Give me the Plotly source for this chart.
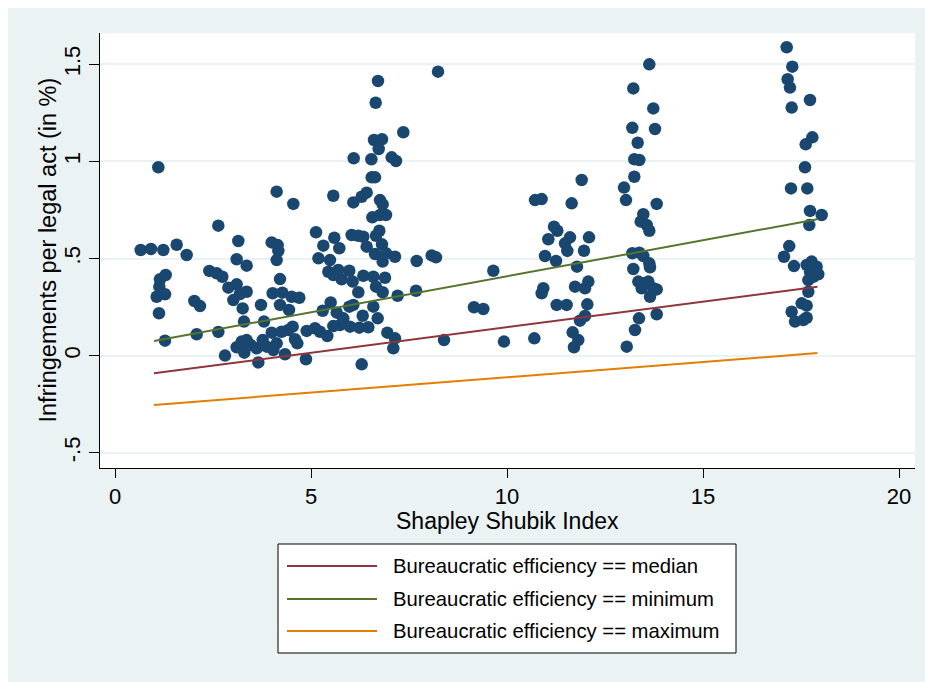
import plotly.graph_objects as go

# ---------------- data ----------------
shapley_index = [
    1.105, 0.655, 0.918, 1.233, 1.573, 1.828, 2.636, 3.146, 4.124, 4.549, 5.128, 3.997, 4.150, 4.167, 4.124,
    3.104, 3.359, 5.190, 1.148, 1.293, 1.131, 1.063, 1.276, 1.122, 1.276, 2.084, 2.636, 2.024, 2.168, 2.406,
    2.594, 2.738, 2.891, 3.104, 3.018, 3.359, 3.189, 3.257, 3.724, 4.209, 4.022, 4.269, 4.507, 4.702, 4.209,
    4.439, 3.291, 3.801, 2.806, 3.299, 3.656, 4.337, 4.872, 3.104, 3.231, 3.359, 3.461, 3.614, 3.767, 3.869,
    3.997, 4.040, 4.124, 4.252, 4.422, 4.533, 4.592, 4.651, 4.890, 5.102,
    8.240, 6.709, 6.650, 7.355, 6.607, 6.811, 6.727, 6.089, 6.540, 7.058, 7.168, 6.548, 6.633, 5.569, 6.080,
    6.293, 6.420, 6.760, 6.828, 6.565, 6.760, 6.913, 6.037, 6.207, 6.335, 6.743, 6.658, 5.595, 5.722, 5.314,
    6.420, 6.811, 6.633, 6.828, 6.913, 7.143, 5.485, 7.696, 8.078, 8.189, 5.442, 5.569, 5.697, 5.782, 5.977,
    6.063, 6.207, 6.335, 6.590, 6.888, 6.658, 6.828, 7.210, 7.679, 5.298, 5.502, 5.655, 5.977, 6.080, 6.590,
    6.319, 6.701, 9.158, 5.230, 5.416, 5.569, 5.740, 5.824, 5.995, 6.232, 6.462, 6.947, 7.143, 7.100, 8.393,
    6.293,
    11.905, 10.714, 10.884, 11.650, 11.199, 11.284, 11.054, 11.607, 11.480, 11.539, 12.092, 10.969, 11.250,
    11.964, 11.786, 9.651, 10.926, 10.884, 11.735, 11.990, 12.075, 9.396, 11.267, 11.522, 12.049, 11.990,
    11.862, 9.923, 10.697, 11.675, 11.819, 11.709,
    13.630, 13.222, 13.732, 13.197, 13.776, 13.334, 13.248, 13.375, 13.248, 12.985, 13.036, 13.819, 13.477,
    13.410, 13.563, 13.630, 13.197, 13.375, 13.477, 13.630, 13.648, 13.222, 13.350, 13.436, 13.605, 13.732,
    13.819, 13.648, 13.477, 13.819, 13.367, 13.265, 13.054,
    17.135, 17.278, 17.160, 17.219, 17.730, 17.262, 17.789, 17.620, 17.602, 17.245, 17.661, 17.730, 18.028,
    17.712, 17.200, 17.066, 17.321, 17.645, 17.772, 17.899, 17.941, 17.730, 17.687, 17.814, 17.687, 17.517,
    17.645, 17.262, 17.347, 17.559, 17.645,
]
infringements = [
    0.970, 0.544, 0.549, 0.544, 0.571, 0.518, 0.669, 0.590, 0.844, 0.781, 0.635, 0.583, 0.569, 0.539, 0.492,
    0.496, 0.463, 0.501, 0.393, 0.415, 0.355, 0.303, 0.316, 0.218, 0.077, 0.110, 0.122, 0.281, 0.255, 0.436,
    0.424, 0.406, 0.350, 0.367, 0.286, 0.329, 0.317, 0.243, 0.261, 0.394, 0.321, 0.324, 0.303, 0.298, 0.261,
    0.235, 0.175, 0.175, 0.000, 0.015, -0.035, 0.007, -0.019, 0.043, 0.072, 0.080, 0.055, 0.038, 0.080, 0.046,
    0.118, 0.029, 0.063, 0.123, 0.132, 0.149, 0.084, 0.063, 0.127, 0.141,
    1.462, 1.414, 1.302, 1.150, 1.110, 1.114, 1.064, 1.016, 1.011, 1.021, 1.002, 0.918, 0.918, 0.823, 0.789,
    0.818, 0.839, 0.801, 0.779, 0.712, 0.724, 0.724, 0.621, 0.617, 0.612, 0.643, 0.617, 0.607, 0.553, 0.566,
    0.561, 0.573, 0.523, 0.484, 0.527, 0.509, 0.492, 0.487, 0.516, 0.506, 0.432, 0.415, 0.441, 0.393, 0.437,
    0.381, 0.326, 0.411, 0.406, 0.401, 0.355, 0.326, 0.308, 0.334, 0.231, 0.274, 0.221, 0.252, 0.261, 0.252,
    0.205, 0.192, 0.249, 0.123, 0.101, 0.152, 0.157, 0.192, 0.149, 0.144, 0.146, 0.118, 0.089, 0.038, 0.080,
    -0.045,
    0.904, 0.801, 0.806, 0.784, 0.664, 0.643, 0.599, 0.609, 0.578, 0.539, 0.609, 0.513, 0.487,
    0.540, 0.458, 0.437, 0.347, 0.321, 0.355, 0.347, 0.381, 0.240, 0.261, 0.261, 0.264, 0.204,
    0.180, 0.072, 0.089, 0.120, 0.080, 0.043,
    1.500, 1.376, 1.273, 1.173, 1.167, 1.096, 1.011, 1.007, 0.921, 0.865, 0.801, 0.781, 0.728,
    0.690, 0.673, 0.643, 0.527, 0.530, 0.513, 0.475, 0.455, 0.446, 0.381, 0.347, 0.381, 0.347,
    0.341, 0.303, 0.372, 0.213, 0.192, 0.132, 0.046,
    1.588, 1.488, 1.423, 1.380, 1.316, 1.277, 1.124, 1.088, 0.970, 0.861, 0.861, 0.745, 0.724,
    0.672, 0.564, 0.509, 0.461, 0.467, 0.484, 0.458, 0.419, 0.432, 0.389, 0.406, 0.329, 0.269,
    0.257, 0.226, 0.175, 0.183, 0.195,
]

fit_x = [0.995, 17.92]
fit_median = [-0.091, 0.355]
fit_minimum = [0.075, 0.702]
fit_maximum = [-0.254, 0.013]

series_names = [
    "Bureaucratic efficiency == median",
    "Bureaucratic efficiency == minimum",
    "Bureaucratic efficiency == maximum",
]
series_values = [fit_median, fit_minimum, fit_maximum]
series_colors = ["#90353B", "#55752F", "#E37E00"]

x_ticks = [0, 5, 10, 15, 20]
x_ticklabels = ["0", "5", "10", "15", "20"]
y_ticks = [-0.5, 0, 0.5, 1, 1.5]
y_ticklabels = ["-.5", "0", ".5", "1", "1.5"]

x_title = "Shapley Shubik Index"
y_title = "Infringements per legal act (in %)"

# ---------------- layout geometry (pixels) ----------------
W, H = 925, 682
L, R, T, B = 100, 915, 33, 468
PW, PH = R - L, B - T


def px(xp):
    return (xp - L) / PW


def py(yp):
    return (B - yp) / PH


FONT = "Arial, Liberation Sans, Helvetica, sans-serif"
BG = "#EAF2F3"
NAVY = "#1A476F"

fig = go.Figure()

fig.add_trace(go.Scatter(
    x=shapley_index, y=infringements, mode="markers",
    marker=dict(color=NAVY, size=12.5, line=dict(width=0)),
    showlegend=False, hoverinfo="skip",
))

for name, vals, col in zip(series_names, series_values, series_colors):
    fig.add_trace(go.Scatter(
        x=fit_x, y=vals, mode="lines", name=name,
        line=dict(color=col, width=2), showlegend=False,
    ))

shapes = [
    # white outer strips (top / left)
    dict(type="rect", xref="paper", yref="paper", x0=px(0), x1=px(8), y0=py(W), y1=py(0),
         fillcolor="white", line=dict(width=0), layer="below"),
    dict(type="rect", xref="paper", yref="paper", x0=px(0), x1=px(W), y0=py(8), y1=py(0),
         fillcolor="white", line=dict(width=0), layer="below"),
    # legend box
    dict(type="rect", xref="paper", yref="paper", x0=px(278), x1=px(736), y0=py(653), y1=py(544),
         fillcolor="white", line=dict(color="black", width=1)),
]
annotations = [
    dict(text=x_title, xref="paper", yref="paper", x=px(507), y=py(521), showarrow=False,
         xanchor="center", yanchor="middle", font=dict(size=23, color="black", family=FONT)),
    dict(text=y_title, xref="paper", yref="paper", x=px(47), y=py(250.5), showarrow=False,
         textangle=-90, xanchor="center", yanchor="middle", font=dict(size=23.5, color="black", family=FONT)),
]
row_y = [566, 599, 631]
for name, col, ry in zip(series_names, series_colors, row_y):
    shapes.append(dict(type="line", xref="paper", yref="paper", x0=px(287), x1=px(377),
                       y0=py(ry), y1=py(ry), line=dict(color=col, width=2)))
    annotations.append(dict(text=name, xref="paper", yref="paper", x=px(391), y=py(ry),
                            showarrow=False, xanchor="left", yanchor="middle",
                            font=dict(size=20.3, color="black", family=FONT)))

fig.update_layout(
    width=W, height=H,
    margin=dict(l=L, r=W - R, t=T, b=H - B, pad=0),
    paper_bgcolor=BG, plot_bgcolor="white",
    font=dict(family=FONT, color="black"),
    shapes=shapes, annotations=annotations,
    showlegend=False,
    xaxis=dict(range=[(L - 115) / 39.2, (R - 115) / 39.2], tickvals=x_ticks, ticktext=x_ticklabels,
               showgrid=False, zeroline=False, showline=True, linecolor="black", linewidth=1,
               ticks="outside", ticklen=9, tickwidth=1, tickcolor="black",
               tickfont=dict(size=22, family=FONT, color="black")),
    yaxis=dict(range=[(355.6 - B) / 194.2, (355.6 - T) / 194.2], tickvals=y_ticks, ticktext=y_ticklabels,
               showgrid=True, gridcolor=BG, gridwidth=2, zeroline=False, showline=True,
               linecolor="black", linewidth=1, ticks="outside", ticklen=10, tickwidth=1,
               tickcolor="black", tickangle=-90,
               tickfont=dict(size=22, family=FONT, color="black")),
)

fig.write_html("out.html")
